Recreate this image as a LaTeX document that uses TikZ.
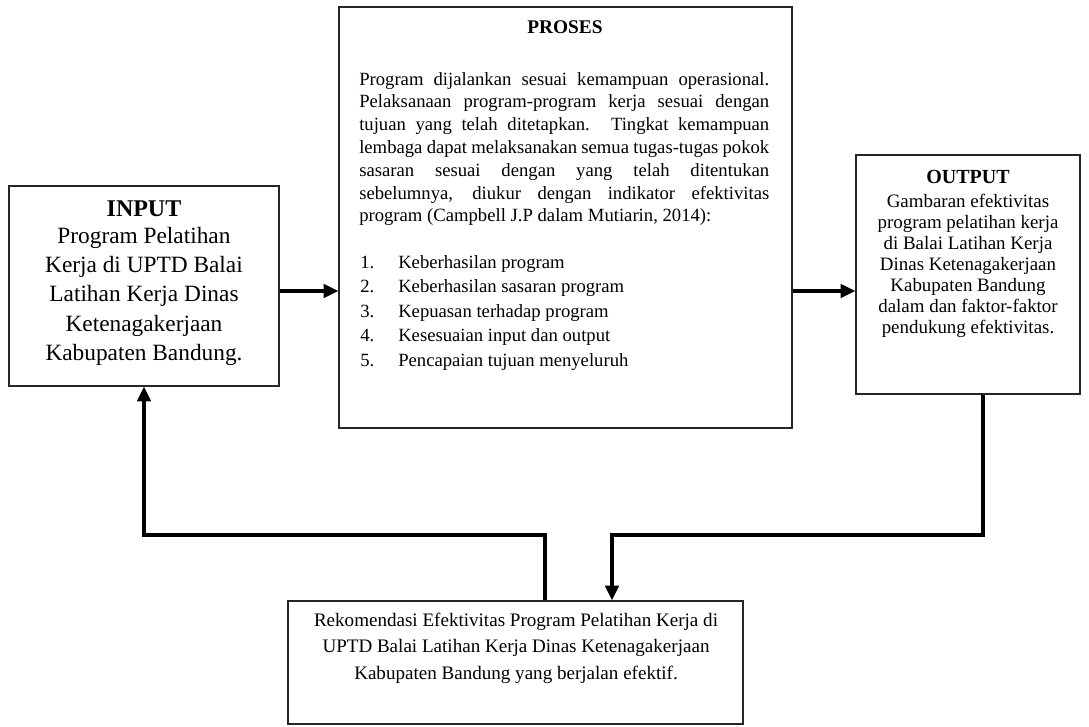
\documentclass[tikz,border=0pt]{standalone}
\usepackage{fontspec}
\setmainfont{Liberation Serif}
\usetikzlibrary{arrows.meta,fit}
\begin{document}
\begin{tikzpicture}[x=0.75pt,y=-0.75pt,
  box/.style={draw=black!85,line width=0.9pt,inner sep=0pt},
  arr/.style={line width=2.5pt,-{Triangle[length=11pt,width=10pt]}},
  txt/.style={inner sep=0pt, anchor=base}]
\useasboundingbox (0,0) rectangle (1089,726);
% boxes
\node[box,fit={(9,186)(279,386)}] (in) {};
\node[box,fit={(339,7)(792,428)}] (pr) {};
\node[box,fit={(856,155)(1080,394)}] (out) {};
\node[box,fit={(288,601)(743,724)}] (rk) {};
% INPUT
\node[txt,font=\fontsize{18}{22}\selectfont\bfseries] (inT) at (144,216) {INPUT};
\node[txt] (inB) at (144,243) {\parbox[t]{250pt}{\centering\fontsize{17.5}{22}\selectfont
Program Pelatihan\\ Kerja di UPTD Balai\\ Latihan Kerja Dinas\\ Ketenagakerjaan\\ Kabupaten Bandung.}};
% PROSES
\node[txt,font=\fontsize{14.5}{17}\selectfont\bfseries] (prT) at (565,33) {PROSES};
\node[anchor=base west,inner sep=0pt] (prB) at (359,85) {\parbox[t]{307.5pt}{\fontsize{14}{17.1}\selectfont
\makebox[\linewidth][s]{Program dijalankan sesuai kemampuan operasional.}\\
\makebox[\linewidth][s]{Pelaksanaan program-program kerja sesuai dengan}\\
\makebox[\linewidth][s]{tujuan yang telah ditetapkan. Tingkat kemampuan}\\
\makebox[\linewidth][s]{lembaga dapat melaksanakan semua tugas-tugas pokok}\\
\makebox[\linewidth][s]{sasaran sesuai dengan yang telah ditentukan}\\
\makebox[\linewidth][s]{sebelumnya, diukur dengan indikator efektivitas}\\
program (Campbell J.P dalam Mutiarin, 2014):}};
\node[anchor=base west,inner sep=0pt] (prL) at (360,268) {\parbox[t]{300pt}{\fontsize{14}{18.4}\selectfont
\makebox[28.5pt][l]{1.}Keberhasilan program\\
\makebox[28.5pt][l]{2.}Keberhasilan sasaran program\\
\makebox[28.5pt][l]{3.}Kepuasan terhadap program\\
\makebox[28.5pt][l]{4.}Kesesuaian input dan output\\
\makebox[28.5pt][l]{5.}Pencapaian tujuan menyeluruh}};
% OUTPUT
\node[txt,font=\fontsize{15}{18}\selectfont\bfseries] (outT) at (968,183) {OUTPUT};
\node[txt] (outB) at (968,207) {\parbox[t]{165pt}{\centering\fontsize{14.2}{15.75}\selectfont
Gambaran efektivitas\\ program pelatihan kerja\\ di Balai Latihan Kerja\\ Dinas Ketenagakerjaan\\ Kabupaten Bandung\\ dalam dan faktor-faktor\\ pendukung efektivitas.}};
% Rekomendasi
\node[txt] (rkB) at (516,626) {\parbox[t]{330pt}{\centering\fontsize{14.3}{19.9}\selectfont
Rekomendasi Efektivitas Program Pelatihan Kerja di\\ UPTD Balai Latihan Kerja Dinas Ketenagakerjaan\\ Kabupaten Bandung yang berjalan efektif.}};
% connectors
\coordinate (a1) at (0,291);
\draw[arr] (in.east |- a1) -- (pr.west |- a1);
\draw[arr] (pr.east |- a1) -- (out.west |- a1);
\coordinate (f1) at (545,535);
\coordinate (f2) at (144,535);
\draw[arr] (rk.north -| f1) -- (f1) -- (f2) -- (in.south -| f2);
\coordinate (g1) at (983,535);
\coordinate (g2) at (612,535);
\draw[arr] (out.south -| g1) -- (g1) -- (g2) -- (rk.north -| g2);
\end{tikzpicture}
\end{document}
